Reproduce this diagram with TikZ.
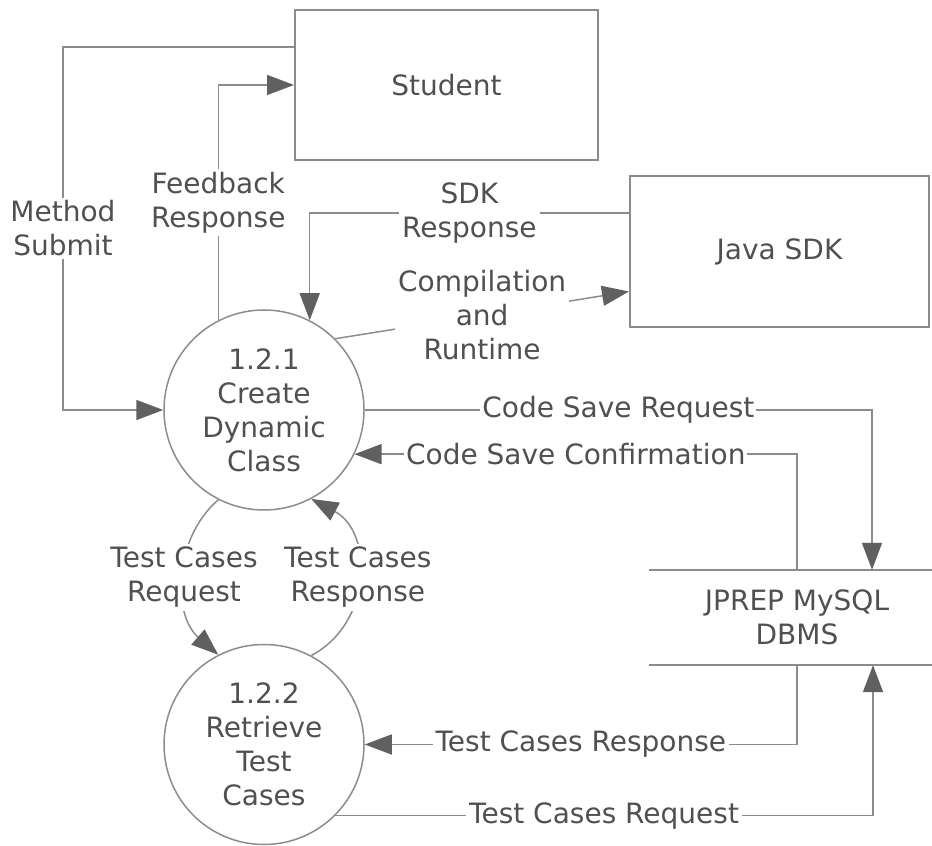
\documentclass[tikz,border=0pt]{standalone}
\usepackage{fontspec}
\setmainfont{DejaVu Sans}
\usetikzlibrary{arrows.meta,positioning}
\definecolor{linegray}{HTML}{8C8C8C}
\definecolor{tipgray}{HTML}{606060}
\definecolor{textgray}{HTML}{505050}

\begin{document}
\begin{tikzpicture}[x=1pt,y=1pt,
    every node/.style={font=\fontsize{28}{34}\selectfont, text=textgray, align=center},
    entity/.style={draw=linegray, line width=2pt, minimum width=303pt, minimum height=150pt},
    process/.style={draw=linegray, line width=1.5pt, circle, minimum size=200pt, inner sep=0pt},
    flow/.style={draw=linegray, line width=1.5pt, -{Triangle[length=27pt,width=20pt,color=tipgray]}},
    lbl/.style={fill=white, inner sep=3pt}]
  \useasboundingbox (0,0) rectangle (932,846);

  %% ---- external entities ----
  \node[entity] (student) at (446.5,761) {Student};
  \node[entity, minimum width=299pt, minimum height=151pt] (java) at (779.5,594.5) {Java SDK};

  %% ---- processes ----
  \node[process] (c1) at (264,436) {1.2.1\\Create\\Dynamic\\Class};
  \node[process] (c2) [below=133pt of c1] {1.2.2\\Retrieve\\Test\\Cases};

  %% ---- data store (open ended) ----
  \node[minimum width=296pt, minimum height=95pt] (db) at (797,228.5) {JPREP MySQL\\DBMS};
  \draw[linegray, line width=2pt] (db.north west) -- (db.north east)
    (db.south west) -- (db.south east);

  %% ---- student flows ----
  \draw[flow] ([yshift=38pt]student.west) -- ++(-231,0)
    -- node[lbl]{Method\\Submit} ++(0,-363) -- (c1.west);
  \draw[flow] (c1.117) |- node[lbl, pos=0.25]{Feedback\\Response} (student.west);

  %% ---- java sdk flows ----
  \draw[flow] ([yshift=38.5pt]java.west) -| node[lbl, pos=0.25]{SDK\\Response} (c1.63);
  \draw[flow] (c1.45) -- node[lbl]{Compilation\\and\\Runtime} ([yshift=-40pt]java.west);

  %% ---- database flows ----
  \draw[flow] (c1.east) -| node[lbl, pos=0.25, inner sep=2pt]{Code Save Request} ([xshift=75pt]db.north);
  \draw[flow] (db.north) |- node[lbl, pos=0.75, inner sep=2pt]{Code Save Confirmation} (c1.334);
  \draw[flow] (db.south) |- node[lbl, pos=0.75]{Test Cases Response} (c2.east);
  \draw[flow] (c2.315) -| node[lbl, pos=0.25]{Test Cases Request} ([xshift=76pt]db.south);

  %% ---- between the two processes ----
  \draw[flow] (c1.243) to[bend right=49] node[lbl]{Test Cases\\Request} (c2.117);
  \draw[flow] (c2.62) to[bend right=62, looseness=1.15] node[lbl]{Test Cases\\Response} (c1.298);
\end{tikzpicture}
\end{document}
